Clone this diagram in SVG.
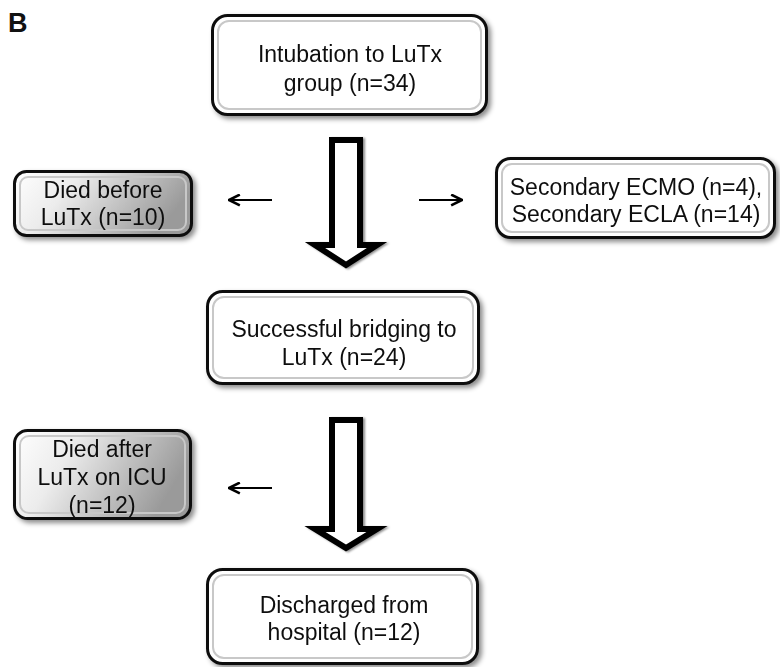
<svg xmlns="http://www.w3.org/2000/svg" width="780" height="667" viewBox="0 0 780 667">
<defs>
<filter id="sh" x="-10%" y="-10%" width="125%" height="135%">
<feDropShadow dx="3" dy="3" stdDeviation="2.5" flood-color="#000" flood-opacity="0.45"/>
</filter>
<filter id="ash" x="-20%" y="-10%" width="150%" height="130%">
<feDropShadow dx="2" dy="1" stdDeviation="1" flood-color="#000" flood-opacity="0.45"/>
</filter>
<linearGradient id="grey" x1="0" y1="0" x2="1" y2="0.3">
<stop offset="0" stop-color="#ffffff"/>
<stop offset="0.35" stop-color="#ececec"/>
<stop offset="1" stop-color="#9a9a9a"/>
</linearGradient>
<marker id="ah" viewBox="0 0 12 12" refX="11" refY="6" markerWidth="13" markerHeight="13" markerUnits="userSpaceOnUse" orient="auto">
<path d="M1,1 L11,6 L1,11" fill="none" stroke="#000" stroke-width="2.4"/>
</marker>
</defs>
<style>
.box{fill:#fff;stroke:#111;stroke-width:3}
.gbox{fill:url(#grey);stroke:#111;stroke-width:3}
.bev{fill:none;stroke:#c8c8c8;stroke-width:2}
.t{font-family:"Liberation Sans",Arial,sans-serif;font-size:23px;fill:#111;text-anchor:middle}
.blk{fill:#fff;stroke:#000;stroke-width:6;stroke-linejoin:miter}
.thin{stroke:#000;stroke-width:2.2;fill:none}
</style>
<text x="8" y="32" style="font-family:'Liberation Sans',Arial,sans-serif;font-size:27px;font-weight:bold;fill:#111">B</text>

<g id="connectors">
<path class="blk" filter="url(#ash)" d="M332,140 L360,140 L360,245 L377,245 L346,265 L315,245 L332,245 Z"/>
<path class="blk" filter="url(#ash)" d="M332,420 L360,420 L360,529 L377,529 L346,548 L315,529 L332,529 Z"/>
<line class="thin" x1="272" y1="200" x2="229" y2="200" marker-end="url(#ah)"/>
<line class="thin" x1="419" y1="200" x2="462" y2="200" marker-end="url(#ah)"/>
<line class="thin" x1="272" y1="488" x2="229" y2="488" marker-end="url(#ah)"/>
</g>

<g id="n1" filter="url(#sh)">
<rect class="box" x="212.5" y="15.5" width="274" height="99" rx="15"/>
<rect class="bev" x="218" y="21" width="263" height="88" rx="11"/>
<text class="t" x="350" y="62">Intubation to LuTx</text>
<text class="t" x="350" y="91">group (n=34)</text>
</g>

<g id="n2" filter="url(#sh)">
<rect class="gbox" x="14.5" y="171.5" width="177" height="64" rx="12"/>
<rect class="bev" x="20" y="177" width="166" height="53" rx="8"/>
<text class="t" x="103" y="198">Died before</text>
<text class="t" x="103" y="225">LuTx (n=10)</text>
</g>

<g id="n3" filter="url(#sh)">
<rect class="box" x="496.5" y="158.5" width="278" height="79" rx="14"/>
<rect class="bev" x="502" y="164" width="267" height="68" rx="10"/>
<text class="t" x="636" y="195">Secondary ECMO (n=4),</text>
<text class="t" x="636" y="222">Secondary ECLA (n=14)</text>
</g>

<g id="n4" filter="url(#sh)">
<rect class="box" x="207.5" y="291.5" width="271" height="92" rx="15"/>
<rect class="bev" x="213" y="297" width="260" height="81" rx="11"/>
<text class="t" x="344" y="337">Successful bridging to</text>
<text class="t" x="344" y="365">LuTx (n=24)</text>
</g>

<g id="n5" filter="url(#sh)">
<rect class="gbox" x="14.5" y="430.5" width="176" height="88" rx="13"/>
<rect class="bev" x="20" y="436" width="165" height="77" rx="9"/>
<text class="t" x="102" y="457">Died after</text>
<text class="t" x="102" y="485">LuTx on ICU</text>
<text class="t" x="102" y="513">(n=12)</text>
</g>

<g id="n6" filter="url(#sh)">
<rect class="box" x="207.5" y="569.5" width="270" height="94" rx="15"/>
<rect class="bev" x="213" y="575" width="259" height="83" rx="11"/>
<text class="t" x="344" y="613">Discharged from</text>
<text class="t" x="344" y="640">hospital (n=12)</text>
</g>
</svg>
